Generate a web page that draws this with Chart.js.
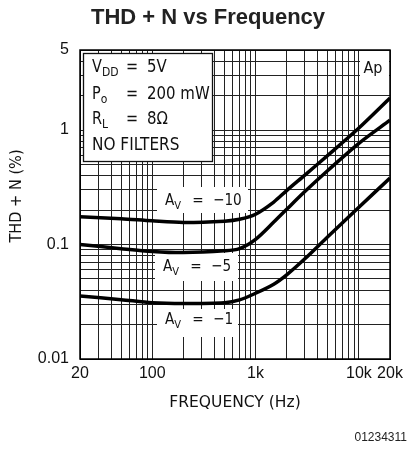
<!DOCTYPE html>
<html>
<head>
<meta charset="utf-8">
<script src="https://cdn.jsdelivr.net/npm/chart.js@4.4.1/dist/chart.umd.min.js"></script>
<style>
  html, body { margin: 0; padding: 0; background: #fff; }
  canvas { display: block; }
</style>
</head>
<body>
<canvas id="myChart" width="412" height="451"></canvas>
<script>
// Frequency points (Hz)
var frequencies = [20, 50, 100, 200, 500, 700, 1000, 1500, 2000, 3000, 5000, 10000, 20000];

// THD + N (%) for each closed loop gain
var thdAvMinus10 = [0.175, 0.168, 0.161, 0.156, 0.16, 0.166, 0.184, 0.235, 0.296, 0.404, 0.6, 1.04, 1.9];
var thdAvMinus5 = [0.1, 0.092, 0.087, 0.085, 0.088, 0.092, 0.111, 0.157, 0.203, 0.29, 0.443, 0.766, 1.22];
var thdAvMinus1 = [0.0355, 0.033, 0.031, 0.0305, 0.031, 0.0328, 0.0375, 0.045, 0.0543, 0.075, 0.117, 0.212, 0.38];
var gainLabels = ["\u221210", "\u22125", "\u22121"];

// log grid lines and the labelled ones
var xGridValues = [20, 30, 40, 50, 60, 70, 80, 90, 100, 200, 300, 400, 500, 600, 700, 800, 900,
  1000, 2000, 3000, 4000, 5000, 6000, 7000, 8000, 9000, 10000, 20000];
var xLabelValues = [20, 100, 1000, 10000, 20000];
var xLabelTexts = ["20", "100", "1k", "10k", "20k"];
var yGridValues = [0.01, 0.02, 0.03, 0.04, 0.05, 0.06, 0.07, 0.08, 0.09, 0.1, 0.2, 0.3, 0.4, 0.5,
  0.6, 0.7, 0.8, 0.9, 1, 2, 3, 4, 5];
var yLabelValues = [0.01, 0.1, 1, 5];
var yLabelTexts = ["0.01", "0.1", "1", "5"];

function points(values) {
  return frequencies.map(function (f, i) { return { x: f, y: values[i] }; });
}

// plotter style text: DejaVu squeezed sideways
function narrowText(ctx, text, x, y, size, squeeze, align) {
  ctx.save();
  ctx.font = size + 'px "DejaVu Sans"';
  ctx.textBaseline = "middle";
  ctx.textAlign = "left";
  var w = ctx.measureText(text).width * squeeze;
  var x0 = align === "center" ? x - w / 2 : (align === "right" ? x - w : x);
  ctx.translate(x0, y);
  ctx.scale(squeeze, 1);
  ctx.fillStyle = "#111";
  ctx.fillText(text, 0, 0);
  ctx.restore();
  return x0 + w;
}

function subText(ctx, main, sub, x, y, size, subSize, drop) {
  var end = narrowText(ctx, main, x, y, size, 0.85, "left");
  return narrowText(ctx, sub, end, y + drop, subSize, 0.9, "left");
}

var annotations = {
  id: "annotations",
  beforeDatasetsDraw: function (chart) {
    var ctx = chart.ctx;
    var a = chart.chartArea;
    var L = a.left, T = a.top;
    ctx.save();

    // info box
    ctx.fillStyle = "#fff";
    ctx.fillRect(L + 3, T + 3, 129, 108);
    ctx.strokeStyle = "#111";
    ctx.lineWidth = 1.3;
    ctx.strokeRect(L + 3.5, T + 3.5, 129, 108);
    subText(ctx, "V", "DD", L + 12, T + 18, 17, 12, 5);
    subText(ctx, "P", "o", L + 12, T + 45, 17, 12, 5);
    subText(ctx, "R", "L", L + 12, T + 70, 17, 12, 5);
    [T + 18, T + 45, T + 70].forEach(function (yy) {
      narrowText(ctx, "=", L + 52, yy, 17, 0.85, "center");
    });
    narrowText(ctx, "5V", L + 67, T + 18, 17, 0.88, "left");
    narrowText(ctx, "200 mW", L + 67, T + 45, 17, 0.88, "left");
    narrowText(ctx, "8\u03a9", L + 67, T + 70, 17, 0.88, "left");
    narrowText(ctx, "NO FILTERS", L + 12, T + 96, 17, 0.9, "left");

    // Ap corner
    ctx.fillStyle = "#fff";
    ctx.fillRect(a.right - 30, T + 1, 29, 44);
    narrowText(ctx, "Ap", a.right - 17, T + 19, 16, 0.9, "center");

    // curve labels
    var boxes = [
      { x: 77, y: 137, w: 91, h: 26, ty: 151, ax: 85 },
      { x: 75, y: 203, w: 83, h: 28, ty: 217, ax: 83 },
      { x: 77, y: 259, w: 81, h: 28, ty: 270, ax: 85 }
    ];
    boxes.forEach(function (b, i) {
      ctx.fillStyle = "#fff";
      ctx.fillRect(L + b.x, T + b.y, b.w, b.h);
      subText(ctx, "A", "V", L + b.ax, T + b.ty, 16, 11, 5);
      narrowText(ctx, "=", L + b.ax + 33, T + b.ty, 16, 0.85, "center");
      narrowText(ctx, gainLabels[i], L + b.ax + 48, T + b.ty, 16, 0.85, "left");
    });

    // frame
    ctx.strokeStyle = "#000";
    ctx.lineWidth = 1.5;
    ctx.strokeRect(a.left, a.top, a.right - a.left, a.bottom - a.top);

    // titles
    ctx.fillStyle = "#222";
    ctx.font = 'bold 22px "Liberation Sans"';
    ctx.textAlign = "center";
    ctx.textBaseline = "middle";
    ctx.fillText("THD + N vs Frequency", 208, 18);
    narrowText(ctx, "FREQUENCY (Hz)", (a.left + a.right) / 2, 403, 16, 0.97, "center");
    ctx.save();
    ctx.translate(17, 196);
    ctx.rotate(-Math.PI / 2);
    narrowText(ctx, "THD + N (%)", 0, 0, 16, 0.91, "center");
    ctx.restore();
    ctx.fillStyle = "#222";
    ctx.font = '12px "Liberation Sans"';
    ctx.textAlign = "right";
    ctx.fillText("01234311", 407, 438);
    ctx.restore();
  }
};

var tickFont = { family: "Liberation Sans", size: 16 };

var ctx = document.getElementById("myChart").getContext("2d");
var myChart = new Chart(ctx, {
  type: "line",
  data: {
    datasets: [
      { label: "AV = -10", data: points(thdAvMinus10), borderColor: "#000", backgroundColor: "#000" },
      { label: "AV = -5", data: points(thdAvMinus5), borderColor: "#000", backgroundColor: "#000" },
      { label: "AV = -1", data: points(thdAvMinus1), borderColor: "#000", backgroundColor: "#000" }
    ]
  },
  options: {
    responsive: false,
    devicePixelRatio: 1,
    animation: false,
    layout: { padding: { left: 0, right: 22, top: 50, bottom: 0 } },
    datasets: {
      line: {
        borderWidth: 3.5,
        pointRadius: 0,
        fill: false,
        tension: 0.3
      }
    },
    plugins: { legend: { display: false }, tooltip: { enabled: false }, title: { display: false } },
    scales: {
      x: {
        type: "logarithmic",
        min: 20,
        max: 20000,
        afterBuildTicks: function (scale) {
          scale.ticks = xGridValues.map(function (v) { return { value: v }; });
        },
        afterFit: function (scale) { scale.height = 92; },
        ticks: {
          autoSkip: false,
          maxRotation: 0,
          padding: 5,
          color: "#111",
          font: tickFont,
          callback: function (v) {
            var i = xLabelValues.indexOf(v);
            return i >= 0 ? xLabelTexts[i] : "";
          }
        },
        grid: { color: "#222", lineWidth: 1, drawTicks: false },
        border: { color: "#000", width: 1 }
      },
      y: {
        type: "logarithmic",
        min: 0.01,
        max: 5,
        afterBuildTicks: function (scale) {
          scale.ticks = yGridValues.map(function (v) { return { value: v }; });
        },
        afterFit: function (scale) { scale.width = 80; },
        ticks: {
          autoSkip: false,
          padding: 11,
          color: "#111",
          font: tickFont,
          callback: function (v) {
            var i = yLabelValues.indexOf(v);
            return i >= 0 ? yLabelTexts[i] : "";
          }
        },
        grid: { color: "#222", lineWidth: 1, drawTicks: false },
        border: { color: "#000", width: 1 }
      }
    }
  },
  plugins: [annotations]
});
</script>
</body>
</html>
